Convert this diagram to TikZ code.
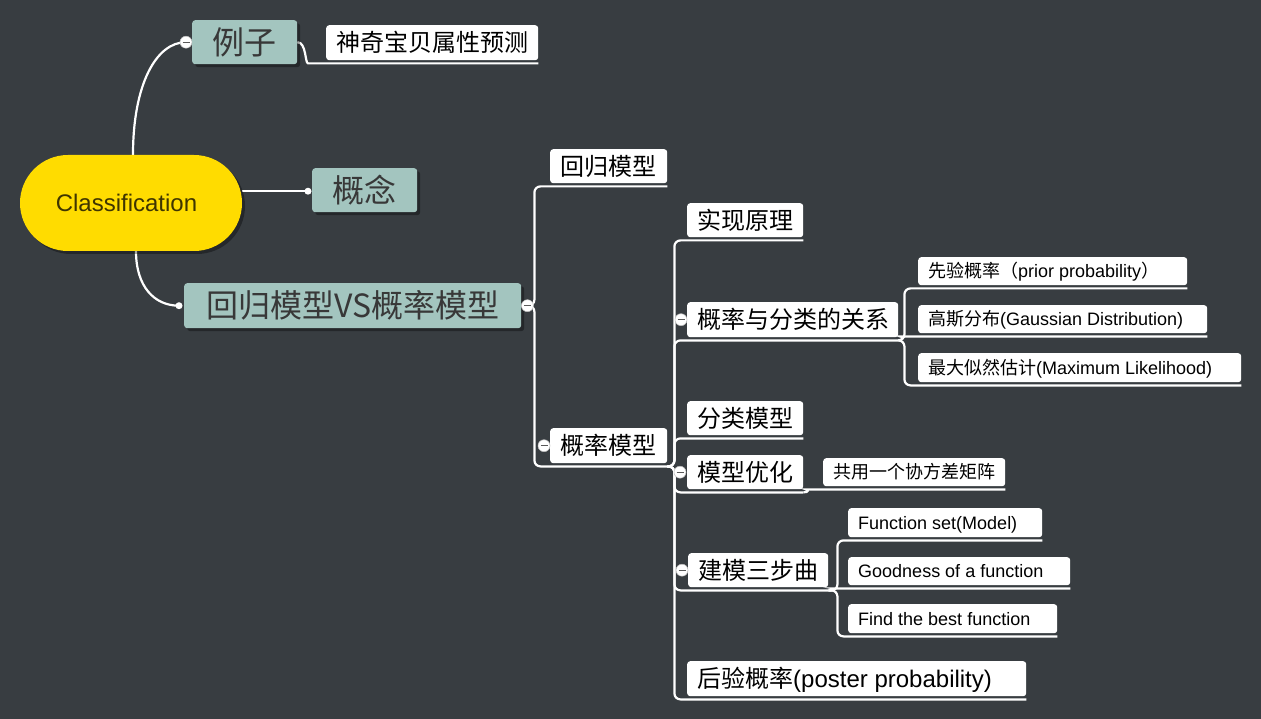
\documentclass[tikz,border=0pt]{standalone}
\usepackage{fontspec}
\setmainfont{Liberation Sans}
\newfontfamily\cj{Noto Sans CJK SC}
\usetikzlibrary{calc,shadows}
\definecolor{bgc}{HTML}{383D41}
\definecolor{tealc}{HTML}{A3C5BF}
\definecolor{yel}{HTML}{FFDC00}
\definecolor{tealtxt}{HTML}{383838}
\definecolor{clstxt}{HTML}{3F3500}
\newcommand\lbx[2]{\makebox[#1pt][l]{#2}}
\pgfdeclarelayer{back}
\pgfdeclarelayer{lines}
\pgfsetlayers{back,lines,main}
\begin{document}
\begin{tikzpicture}[x=1pt,y=-1pt,
 tbox/.style={fill=tealc, rounded corners=3pt, anchor=north west, inner sep=0pt, text=tealtxt,
   font=\fontsize{32}{36}\selectfont\cj, text height=27pt, text depth=3pt,
   drop shadow={shadow xshift=3pt, shadow yshift=-3pt, fill=black, opacity=0.35}},
 wbox/.style={fill=white, rounded corners=3pt, anchor=north west, inner xsep=10pt, inner ysep=0pt, text=black},
 big/.style={font=\fontsize{24}{28}\selectfont, text height=20pt, text depth=2pt},
 small/.style={font=\fontsize{18}{22}\selectfont, text height=15pt, text depth=1.5pt},
 conn/.style={draw=white, line width=2.2pt, rounded corners=6pt},
 mk/.style={circle, fill=white, draw=gray!50, line width=0.5pt, minimum size=12pt, inner sep=0pt},
 dotn/.style={circle, fill=white, minimum size=7pt, inner sep=0pt}]
\useasboundingbox (0,0) rectangle (1261,719);
\begin{pgfonlayer}{back}
\fill[bgc] (0,0) rectangle (1261,719);
\end{pgfonlayer}

% root
\node[fill=yel, rounded corners=48pt, minimum width=222pt, minimum height=96pt, inner sep=0pt,
  text=clstxt, font=\fontsize{24}{28}\selectfont,
  drop shadow={shadow xshift=3pt, shadow yshift=-3pt, fill=black, opacity=0.35}] (cls) at (131,203) {\hspace*{-9pt}Classification};

% level 1 (teal)
\node[tbox, minimum width=105pt, minimum height=44pt] (t1) at (192,20) {例子};
\node[tbox, minimum width=105pt, minimum height=44pt] (t2) at (312,168) {概念};
\node[tbox, minimum width=337pt, minimum height=45pt] (t3) at (184,283) {回归模型VS概率模型};

% level 2
\node[wbox, big, minimum height=35pt] (s1) at (326,25) {\lbx{192}{\cj 神奇宝贝属性预测}};
\node[wbox, big, minimum height=34pt] (r1) at (550,149) {\lbx{97}{\cj 回归模型}};
\node[wbox, big, minimum height=35pt] (r2) at (550,428) {\lbx{97}{\cj 概率模型}};

% level 3
\node[wbox, big, minimum height=34pt] (c1) at (687,203) {\lbx{96}{\cj 实现原理}};
\node[wbox, big, minimum height=35pt] (c2) at (687,302) {\lbx{191}{\cj 概率与分类的关系}};
\node[wbox, big, minimum height=34pt] (c3) at (687,401) {\lbx{96}{\cj 分类模型}};
\node[wbox, big, minimum height=34pt] (c4) at (687,455) {\lbx{96}{\cj 模型优化}};
\node[wbox, big, minimum height=34pt] (c5) at (688,553) {\lbx{120}{\cj 建模三步曲}};
\node[wbox, big, minimum height=35pt] (c6) at (687,661) {\lbx{319}{{\cj 后验概率}(poster probability)}};

% level 4
\node[wbox, small, minimum height=28pt] (d1) at (918,257) {\lbx{249}{{\cj 先验概率（}prior probability{\cj ）}}};
\node[wbox, small, minimum height=28pt] (d2) at (918,305) {\lbx{269}{{\cj 高斯分布}(Gaussian Distribution)}};
\node[wbox, small, minimum height=29pt] (d3) at (918,353) {\lbx{303}{{\cj 最大似然估计}(Maximum Likelihood)}};
\node[wbox, small, minimum height=28pt] (e1) at (823,458) {\lbx{162}{\cj 共用一个协方差矩阵}};
\node[wbox, small, minimum height=29pt] (f1) at (848,508) {\lbx{174}{Function set(Model)}};
\node[wbox, small, minimum height=28pt] (f2) at (848,557) {\lbx{202}{Goodness of a function}};
\node[wbox, small, minimum height=29pt] (f3) at (848,604) {\lbx{189}{Find the best function}};

% markers
\node[mk] (m1) at ($(t1.west)+(-6,0)$) {};
\node[mk] (m2) at ($(t3.east)+(6,0)$) {};
\node[mk] (m3) at ($(r2.west)+(-6,0)$) {};
\node[mk] (m4) at ($(c2.west)+(-6,0)$) {};
\node[mk] (m5) at ($(c4.west)+(-7,0)$) {};
\node[mk] (m6) at ($(c5.west)+(-6,0)$) {};
\foreach \m in {m1,m2,m3,m4,m5,m6}{
  \draw[black!65, line width=1.2pt] ($(\m.center)+(-3.5,0)$) -- ($(\m.center)+(3.5,0)$);
}
\node[dotn] (p1) at ($(t2.west)+(-4,1)$) {};
\node[dotn] (p2) at ($(t3.west)+(-5,0)$) {};

% underline end points
\foreach \n in {s1,r1,r2,c1,c2,c3,c4,c5,c6,d1,d2,d3,e1,f1,f2,f3}{
  \coordinate (\n u) at ($(\n.south east)+(0,3)$);
}

\begin{pgfonlayer}{lines}
% root connectors
\draw[conn] ($(cls.north)+(2,0)$) .. controls +(0,-70) and +(-30,0) .. (m1.center);
\draw[conn] (cls.east |- p1) -- (p1.center);
\draw[conn] ($(cls.south)+(5,0)$) .. controls +(0,35) and +(-25,0) .. (p2.center);
% example
\draw[conn] (t1.east) .. controls +(9,0) and +(-9,0) .. ($(s1.south west)+(-12,3)$) -- (s1u);
% VS children
\draw[conn] (t3.east) -- ++(13,0) |- (r1u);
\draw[conn] (t3.east) -- ++(13,0) |- (r2u);
% probability model children
\foreach \c in {c1,c2,c3,c4,c5,c6}{
  \draw[conn] (r2u) -- ++(7,0) |- (\c u);
}
% relation children
\draw[conn] (c2u) -- ++(6,0) |- (d1u);
\draw[conn] (c2u) .. controls +(5,0) and +(-3,0) .. ($(d2.south west)+(-12,3)$) -- (d2u);
\draw[conn] (c2u) -- ++(6,0) |- (d3u);
% optimisation child
\draw[conn] (c4u) .. controls +(6,0) and +(-4,0) .. ($(e1.south west)+(-11,3)$) -- (e1u);
% three steps children
\draw[conn] (c5u) -- ++(9,0) |- (f1u);
\draw[conn] (c5u) .. controls +(6,0) and +(-3,0) .. ($(f2.south west)+(-9,3)$) -- (f2u);
\draw[conn] (c5u) -- ++(9,0) |- (f3u);
\end{pgfonlayer}
\end{tikzpicture}
\end{document}
